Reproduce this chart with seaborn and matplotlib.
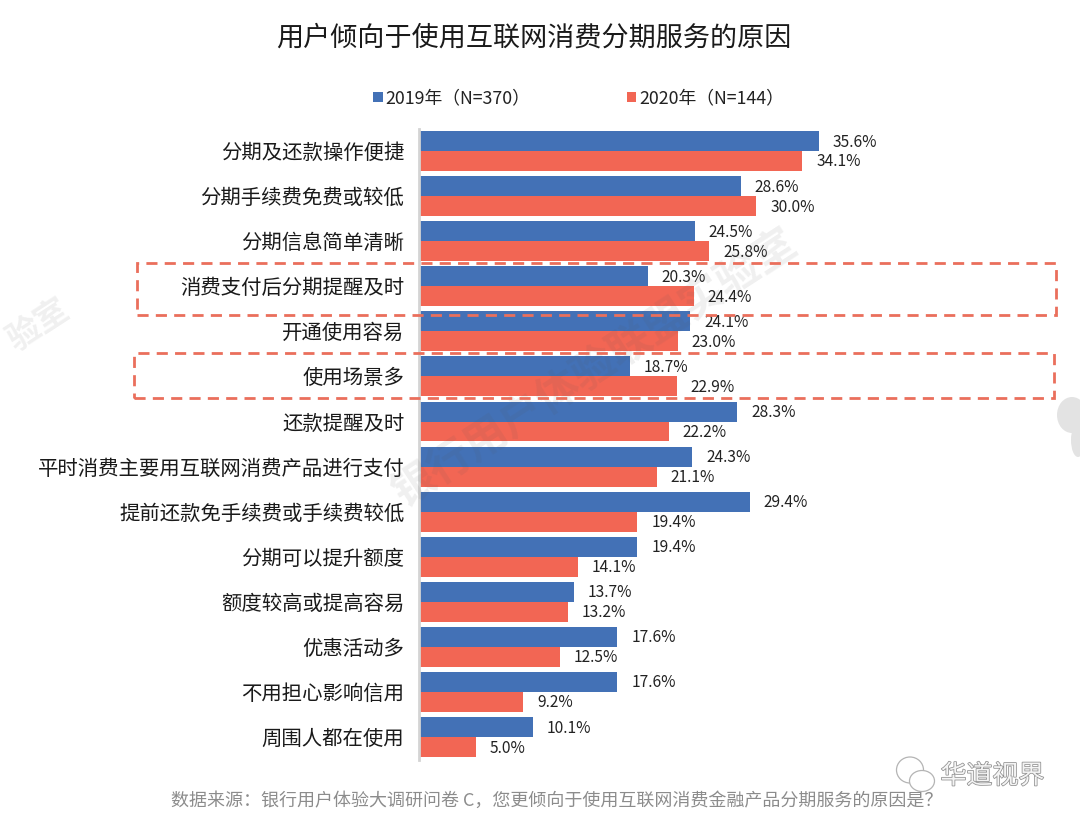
import matplotlib
matplotlib.use("Agg")
import matplotlib.pyplot as plt
import matplotlib.patheffects as pe
import seaborn as sns
import pandas as pd
from matplotlib.patches import Rectangle, Ellipse

categories = ["分期及还款操作便捷", "分期手续费免费或较低", "分期信息简单清晰", "消费支付后分期提醒及时",
              "开通使用容易", "使用场景多", "还款提醒及时", "平时消费主要用互联网消费产品进行支付",
              "提前还款免手续费或手续费较低", "分期可以提升额度", "额度较高或提高容易", "优惠活动多",
              "不用担心影响信用", "周围人都在使用"]
values_2019 = [35.6, 28.6, 24.5, 20.3, 24.1, 18.7, 28.3, 24.3, 29.4, 19.4, 13.7, 17.6, 17.6, 10.1]
values_2020 = [34.1, 30.0, 25.8, 24.4, 23.0, 22.9, 22.2, 21.1, 19.4, 14.1, 13.2, 12.5, 9.2, 5.0]
series_names = ["2019年（N=370）", "2020年（N=144）"]
title = "用户倾向于使用互联网消费分期服务的原因"
source = "数据来源：银行用户体验大调研问卷 C，您更倾向于使用互联网消费金融产品分期服务的原因是？"
mark = "华道视界"
watermark = "银行用户体验联盟实验室"

sns.set_theme(style="white")
plt.rcParams['font.family'] = ['Noto Sans CJK SC', 'DejaVu Sans']

W, H = 1080, 824
fig = plt.figure(figsize=(W / 100, H / 100), dpi=100, facecolor="white")
ax = fig.add_axes([420 / W, 1 - 759.6 / H, 640 / W, (759.6 - 128.5) / H])

df = pd.DataFrame({
    "cat": categories * 2,
    "value": values_2019 + values_2020,
    "year": [series_names[0]] * len(categories) + [series_names[1]] * len(categories),
})
BLUE, RED = "#4371B6", "#F26654"
sns.barplot(data=df, y="cat", x="value", hue="year", palette=[BLUE, RED], orient="h",
            width=0.885, gap=0, saturation=1, errorbar=None, ax=ax, linewidth=0, zorder=2)
ax.set_xlim(0, 640 / 11.21)
ax.set_ylim(13.5, -0.5)
ax.set_xlabel("")
ax.set_ylabel("")
ax.set_xticks([])
ax.tick_params(axis="y", length=0, pad=10.5, labelsize=14.7, labelcolor="#1a1a1a")
for s in ["top", "right", "bottom"]:
    ax.spines[s].set_visible(False)
ax.spines["left"].set_color("#d4d4d4")
ax.spines["left"].set_linewidth(2)
ax.spines["left"].set_position(("outward", 0.8))
ax.patch.set_alpha(0)

for cont, vals in zip(ax.containers, [values_2019, values_2020]):
    anns = ax.bar_label(cont, labels=[f"{v:.1f}%" for v in vals], padding=10, fontsize=11.2, color="#222222")
    for a in anns:
        x0, y0 = a.xyann
        a.xyann = (x0, y0 - 0.7)

handles, labels = ax.get_legend_handles_labels()
ax.legend_.remove()
fig.legend(handles, labels, ncol=2, loc="center", bbox_to_anchor=(578.5 / W, 1 - 98 / H),
           frameon=False, fontsize=12.8, handlelength=0.52, handleheight=0.52, handletextpad=0.15,
           columnspacing=5.45, labelcolor="#222222", borderpad=0)

fig.text(533.5 / W, 1 - 38 / H, title, fontsize=19.5, color="#1a1a1a", ha="center", va="center")
fig.text(553 / W, 1 - 801 / H, source, fontsize=12.98, color="#8c8c8c", ha="center", va="center",
         position=(557 / W, 1 - 801 / H))
t = fig.text(992.5 / W, 1 - 776 / H, mark, fontsize=18.7, color="#f4f4f4", ha="center", va="center", zorder=7)
t.set_path_effects([pe.withStroke(linewidth=1.1, foreground="#8f8f8f")])

# dashed call-out frames and small logo, drawn in figure pixels
def px_rect(x0, y0, x1, y1):
    fig.add_artist(Rectangle((x0 / W, 1 - y1 / H), (x1 - x0) / W, (y1 - y0) / H, transform=fig.transFigure,
                             fill=False, edgecolor="#EA6F5C", linewidth=2, linestyle=(0, (4, 2.6)), zorder=6))
px_rect(137, 263, 1056, 315)
px_rect(134, 353, 1054, 398)
for cx, cy, w, h in [(910, 770, 27, 26), (922, 781, 25, 21)]:
    fig.add_artist(Ellipse((cx / W, 1 - cy / H), w / W, h / H, transform=fig.transFigure, fill=True,
                           facecolor="white", edgecolor="#b4b4b4", linewidth=0.9, zorder=5))

# faint grey logo fragment at the right edge
for cx, cy, w, h in [(1072, 415, 30, 36), (1078, 440, 14, 34)]:
    fig.add_artist(Ellipse((cx / W, 1 - cy / H), w / W, h / H, transform=fig.transFigure,
                           facecolor="#e3e3e3", edgecolor="none", zorder=1))

# faint diagonal watermark
fig.text(595 / W, 1 - 368 / H, watermark, fontsize=31, color="#555555", alpha=0.09, rotation=33,
         ha="center", va="center", fontweight="bold", zorder=5)
fig.text(38 / W, 1 - 325 / H, "验室", fontsize=24, color="#555555", alpha=0.09, rotation=33,
         ha="center", va="center", fontweight="bold", zorder=5)

fig.savefig("out.png", dpi=100, facecolor="white")
